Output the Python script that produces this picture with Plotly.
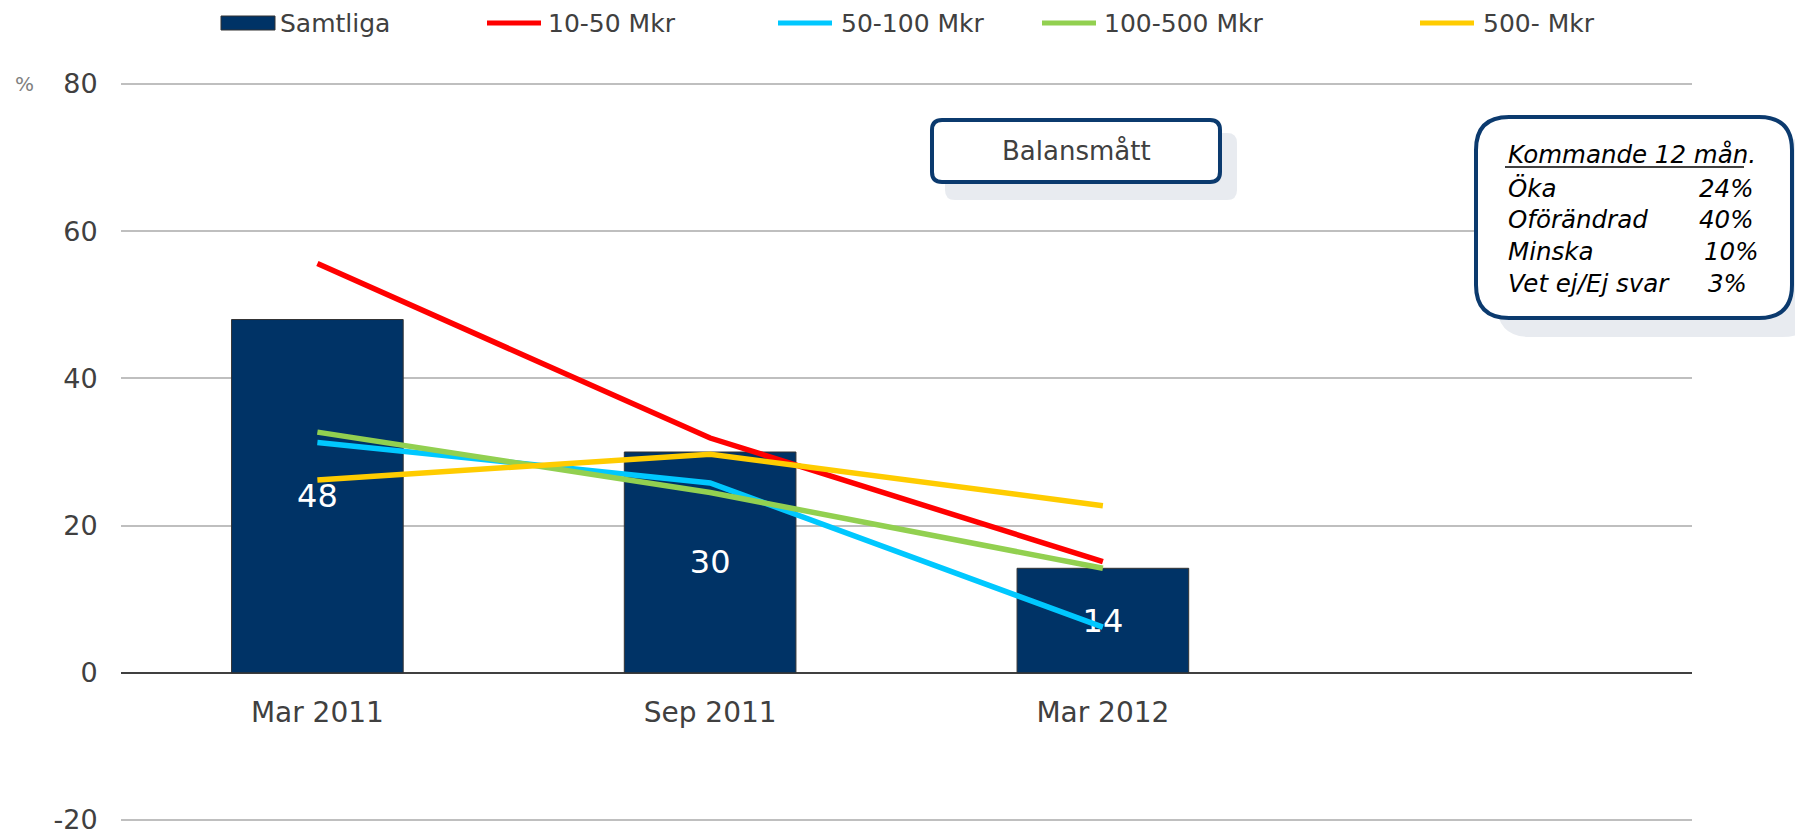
import plotly.graph_objects as go

# ---- data ----
categories = ["Mar 2011", "Sep 2011", "Mar 2012"]
samtliga = [48.0, 30.0, 14.2]
mkr_10_50 = [55.6, 31.9, 15.1]
mkr_50_100 = [31.3, 25.8, 6.2]
mkr_100_500 = [32.7, 24.5, 14.2]
mkr_500 = [26.2, 29.7, 22.7]
series_names = ["Samtliga", "10-50 Mkr", "50-100 Mkr", "100-500 Mkr", "500- Mkr"]
y_ticks = [-20, 0, 20, 40, 60, 80]
box_title = "Balansmått"
side_title = "Kommande 12 mån."
side_labels = ["Öka", "Oförändrad", "Minska", "Vet ej/Ej svar"]
side_values = ["24%", "40%", "10%", "3%"]

NAVY = "#003366"
BORDER = "#0b3a6e"
COLORS = ["#003366", "#ff0000", "#00c8ff", "#92d050", "#ffcc00"]
FONT = "DejaVu Sans"
TXT = "#404040"

W_FIG, H_FIG = 1795, 830
L, R, T, B = 121, 1692, 82, 822
PW, PH = R - L, B - T
UNIT = 736 / 100.0  # pixels per percent between 80 (y=84) and -20 (y=820)
Y_HI = 80 + (84 - T) / UNIT
Y_LO = -20 - (B - 820) / UNIT


def px(X):
    return (X - L) / PW


def py(Y):
    return (B - Y) / PH


def rrect(x0, y0, x1, y1, r):
    pts = [
        ("M", [(x0 + r, y0)]),
        ("L", [(x1 - r, y0)]),
        ("Q", [(x1, y0), (x1, y0 + r)]),
        ("L", [(x1, y1 - r)]),
        ("Q", [(x1, y1), (x1 - r, y1)]),
        ("L", [(x0 + r, y1)]),
        ("Q", [(x0, y1), (x0, y1 - r)]),
        ("L", [(x0, y0 + r)]),
        ("Q", [(x0, y0), (x0 + r, y0)]),
    ]
    s = ""
    for cmd, ps in pts:
        s += cmd + " " + " ".join(f"{px(a):.5f},{py(b):.5f}" for a, b in ps) + " "
    return s + "Z"


fig = go.Figure()
fig.add_trace(go.Bar(
    x=categories, y=samtliga, name=series_names[0], width=0.437,
    marker=dict(color=NAVY, line=dict(color="#333333", width=1)),
    text=samtliga, texttemplate="%{y:.0f}", textposition="inside",
    insidetextanchor="middle", textangle=0,
    textfont=dict(family=FONT, size=32, color="white"),
    showlegend=False,
))
for name, vals, col in zip(series_names[1:], [mkr_10_50, mkr_50_100, mkr_100_500, mkr_500], COLORS[1:]):
    fig.add_trace(go.Scatter(
        x=categories, y=vals, name=name, mode="lines",
        line=dict(color=col, width=5.5), showlegend=False,
    ))

shapes = []
annotations = []

# manual legend
leg_y = 23
leg_items = [(221, 278), (487, 546), (778, 839), (1042, 1102), (1420, 1481)]
for i, ((sx, tx), name, col) in enumerate(zip(leg_items, series_names, COLORS)):
    if i == 0:
        shapes.append(dict(type="rect", xref="paper", yref="paper",
                           x0=px(sx), x1=px(sx + 54), y0=py(leg_y + 7), y1=py(leg_y - 7),
                           fillcolor=col, line=dict(color="#333333", width=1)))
    else:
        shapes.append(dict(type="line", xref="paper", yref="paper",
                           x0=px(sx), x1=px(sx + 54), y0=py(leg_y), y1=py(leg_y),
                           line=dict(color=col, width=5)))
    annotations.append(dict(xref="paper", yref="paper", x=px(tx), y=py(leg_y),
                            xanchor="left", yanchor="middle", showarrow=False,
                            text=name, font=dict(family=FONT, size=25, color=TXT)))

# Balansmått box
shapes.append(dict(type="path", xref="paper", yref="paper",
                   path=rrect(945, 133, 1237, 200, 10), fillcolor="#e8ebf0",
                   line=dict(width=0), layer="above"))
shapes.append(dict(type="path", xref="paper", yref="paper",
                   path=rrect(932, 120, 1220, 182, 10), fillcolor="white",
                   line=dict(color=BORDER, width=4), layer="above"))
annotations.append(dict(xref="paper", yref="paper", x=px(1076), y=py(151),
                        xanchor="center", yanchor="middle", showarrow=False,
                        text=box_title, font=dict(family=FONT, size=26, color=TXT)))

# side box
shapes.append(dict(type="path", xref="paper", yref="paper",
                   path=rrect(1497, 138, 1815, 337, 33), fillcolor="#e8ebf0",
                   line=dict(width=0), layer="above"))
shapes.append(dict(type="path", xref="paper", yref="paper",
                   path=rrect(1476, 117, 1792, 318, 33), fillcolor="white",
                   line=dict(color=BORDER, width=4), layer="above"))
annotations.append(dict(xref="paper", yref="paper", x=px(1506), y=py(154),
                        xanchor="left", yanchor="middle", showarrow=False,
                        text="<i>" + side_title + "</i>",
                        font=dict(family=FONT, size=24.5, color="black")))
shapes.append(dict(type="line", xref="paper", yref="paper",
                   x0=px(1505), x1=px(1744), y0=py(167), y1=py(167),
                   line=dict(color="black", width=1.5), layer="above"))
row_y = [188, 219, 251, 283]
val_right = [1755, 1755, 1760, 1749]
for lab, val, yy, xr in zip(side_labels, side_values, row_y, val_right):
    annotations.append(dict(xref="paper", yref="paper", x=px(1506), y=py(yy),
                            xanchor="left", yanchor="middle", showarrow=False,
                            text="<i>" + lab + "</i>",
                            font=dict(family=FONT, size=24.5, color="black")))
    annotations.append(dict(xref="paper", yref="paper", x=px(xr), y=py(yy),
                            xanchor="right", yanchor="middle", showarrow=False,
                            text="<i>" + val + "</i>",
                            font=dict(family=FONT, size=24.5, color="black")))

# percent sign
annotations.append(dict(xref="paper", yref="paper", x=px(24), y=py(84),
                        xanchor="center", yanchor="middle", showarrow=False,
                        text="%", font=dict(family=FONT, size=20, color="#808080")))

fig.update_layout(
    width=W_FIG, height=H_FIG,
    margin=dict(l=L, r=W_FIG - R, t=T, b=H_FIG - B, pad=0, autoexpand=False),
    paper_bgcolor="white", plot_bgcolor="white",
    shapes=shapes, annotations=annotations,
    xaxis=dict(
        type="category", categoryorder="array", categoryarray=categories,
        range=[-0.5, 3.5], anchor="free", position=(0 - Y_LO) / (Y_HI - Y_LO),
        showgrid=False, showline=False, zeroline=False, automargin=False,
        ticks="outside", ticklen=15, tickcolor="rgba(0,0,0,0)",
        tickfont=dict(family=FONT, size=28, color=TXT),
    ),
    yaxis=dict(
        range=[Y_LO, Y_HI], tickvals=y_ticks, ticktext=[str(v) for v in y_ticks],
        showgrid=True, gridcolor="#bfbfbf", gridwidth=1.5,
        zeroline=True, zerolinecolor="#404040", zerolinewidth=2,
        showline=False, ticks="outside", ticklen=17, tickcolor="rgba(0,0,0,0)",
        ticklabeloverflow="allow", automargin=False,
        tickfont=dict(family=FONT, size=27, color=TXT),
    ),
)

fig.write_html(
    "out.html",
    config={"displayModeBar": False},
    post_script="document.body.style.margin='0';document.body.style.overflow='hidden';",
)
